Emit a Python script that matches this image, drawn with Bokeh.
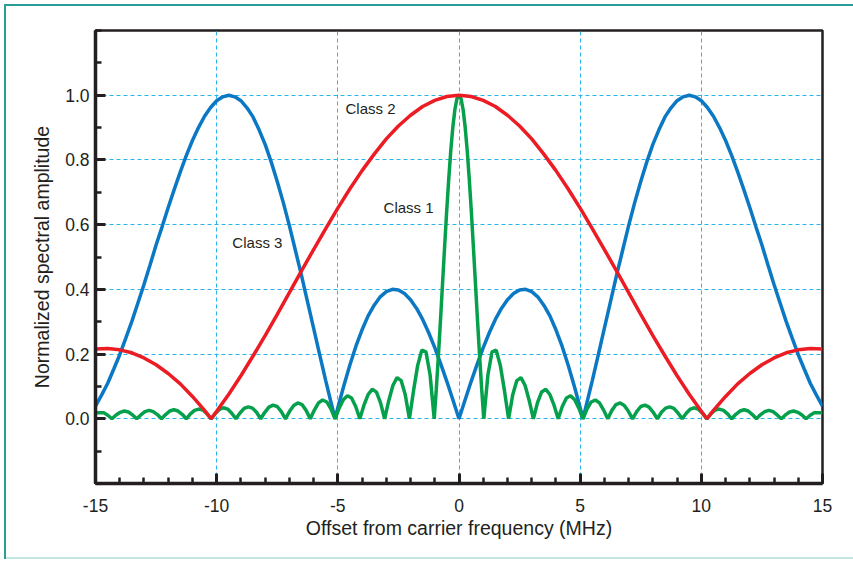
from bokeh.plotting import figure
from bokeh.models import FixedTicker, Label, Range1d, PrintfTickFormatter
from bokeh.embed import file_html
from bokeh.resources import INLINE

# ---------------- data ----------------
# Class 2 (red)
class2_x = [-15, -14.5, -14, -13.5, -13, -12.5, -12, -11.5, -11, -10.5, -10.23, -10,
            -9.5, -9, -8.5, -8, -7.5, -7, -6.5, -6, -5.5, -5, -4.5, -4, -3.5, -3,
            -2.5, -2, -1.5, -1, -0.5, 0, 0.5, 1, 1.5, 2, 2.5, 3, 3.5, 4, 4.5, 5,
            5.5, 6, 6.5, 7, 7.5, 8, 8.5, 9, 9.5, 10, 10.23, 10.5, 11, 11.5, 12,
            12.5, 13, 13.5, 14, 14.5, 15]
class2_y = [0.216, 0.217, 0.213, 0.204, 0.188, 0.167, 0.140, 0.108, 0.069, 0.026, 0.0, 0.023,
            0.076, 0.133, 0.194, 0.257, 0.323, 0.390, 0.457, 0.523, 0.588, 0.651, 0.711, 0.767, 0.818, 0.865,
            0.905, 0.938, 0.965, 0.984, 0.996, 1.000, 0.996, 0.984, 0.965, 0.938, 0.905, 0.865, 0.818, 0.767, 0.711, 0.651,
            0.588, 0.523, 0.457, 0.390, 0.323, 0.257, 0.194, 0.133, 0.076, 0.023, 0.0, 0.026, 0.069, 0.108, 0.140,
            0.167, 0.188, 0.204, 0.213, 0.217, 0.216]

# Class 3 (blue)
class3_x = [-15, -14.75, -14.5, -14.25, -14, -13.75, -13.5, -13.25, -13, -12.75, -12.5, -12.25,
            -12, -11.75, -11.5, -11.25, -11, -10.75, -10.5, -10.25, -10, -9.75, -9.5, -9.25,
            -9, -8.75, -8.5, -8.25, -8, -7.75, -7.5, -7.25, -7, -6.75, -6.5, -6.25,
            -6, -5.75, -5.5, -5.25, -5.115, -5, -4.75, -4.5, -4.25, -4, -3.75, -3.5, -3.25,
            -3, -2.75, -2.5, -2.25, -2, -1.75, -1.5, -1.25, -1, -0.75, -0.5, -0.25,
            0, 0.25, 0.5, 0.75, 1, 1.25, 1.5, 1.75, 2, 2.25, 2.5, 2.75, 3,
            3.25, 3.5, 3.75, 4, 4.25, 4.5, 4.75, 5, 5.115, 5.25, 5.5, 5.75, 6,
            6.25, 6.5, 6.75, 7, 7.25, 7.5, 7.75, 8, 8.25, 8.5, 8.75, 9,
            9.25, 9.5, 9.75, 10, 10.25, 10.5, 10.75, 11, 11.25, 11.5, 11.75, 12,
            12.25, 12.5, 12.75, 13, 13.25, 13.5, 13.75, 14, 14.25, 14.5, 14.75, 15]
class3_y = [0.039, 0.073, 0.109, 0.153, 0.198, 0.249, 0.301, 0.358, 0.415, 0.475, 0.537, 0.594,
            0.653, 0.709, 0.763, 0.814, 0.860, 0.900, 0.935, 0.962, 0.983, 0.995, 1.000, 0.995,
            0.983, 0.961, 0.933, 0.893, 0.848, 0.794, 0.733, 0.668, 0.597, 0.520, 0.443, 0.361,
            0.280, 0.198, 0.118, 0.041, 0.0, 0.034, 0.103, 0.167, 0.225, 0.275, 0.318, 0.351, 0.377,
            0.393, 0.400, 0.398, 0.387, 0.368, 0.341, 0.307, 0.266, 0.220, 0.169, 0.115, 0.058,
            0.0, 0.058, 0.115, 0.169, 0.220, 0.266, 0.307, 0.341, 0.368, 0.387, 0.398, 0.400, 0.393,
            0.377, 0.351, 0.318, 0.275, 0.225, 0.167, 0.103, 0.034, 0.0, 0.041, 0.118, 0.198, 0.280,
            0.361, 0.443, 0.520, 0.597, 0.668, 0.733, 0.794, 0.848, 0.893, 0.933, 0.961, 0.983,
            0.995, 1.000, 0.995, 0.983, 0.962, 0.935, 0.900, 0.860, 0.814, 0.763, 0.709, 0.653,
            0.594, 0.537, 0.475, 0.415, 0.358, 0.301, 0.249, 0.198, 0.153, 0.109, 0.073, 0.039]

# Class 1 (green)
class1_x = [-15.0, -14.663, -14.493,
            -14.322, -14.152, -13.981, -13.811, -13.640, -13.470,
            -13.299, -13.129, -12.958, -12.788, -12.617, -12.447,
            -12.276, -12.106, -11.935, -11.765, -11.594, -11.424,
            -11.253, -11.083, -10.912, -10.742, -10.571, -10.401,
            -10.230, -10.060, -9.889, -9.719, -9.548, -9.378,
            -9.207, -9.037, -8.866, -8.696, -8.525, -8.355,
            -8.184, -8.014, -7.843, -7.673, -7.502, -7.332,
            -7.161, -6.991, -6.820, -6.650, -6.479, -6.309,
            -6.138, -5.968, -5.797, -5.627, -5.456, -5.286,
            -5.115, -4.945, -4.774, -4.604, -4.433, -4.263,
            -4.092, -3.922, -3.751, -3.581, -3.410, -3.240,
            -3.069, -2.899, -2.728, -2.558, -2.387, -2.217,
            -2.046, -1.876, -1.705, -1.535, -1.364, -1.194,
            -1.023, -0.938, -0.853, -0.767, -0.682, -0.597, -0.512, -0.426, -0.341, -0.256, -0.171, -0.085,
            0.0, 0.085, 0.171, 0.256, 0.341, 0.426, 0.512, 0.597, 0.682, 0.767, 0.853, 0.938, 1.023,
            1.194, 1.364, 1.535, 1.705, 1.876, 2.046,
            2.217, 2.387, 2.558, 2.728, 2.899, 3.069,
            3.240, 3.410, 3.581, 3.751, 3.922, 4.092,
            4.263, 4.433, 4.604, 4.774, 4.945, 5.115,
            5.286, 5.456, 5.627, 5.797, 5.968, 6.138,
            6.309, 6.479, 6.650, 6.820, 6.991, 7.161,
            7.332, 7.502, 7.673, 7.843, 8.014, 8.184,
            8.355, 8.525, 8.696, 8.866, 9.037, 9.207,
            9.378, 9.548, 9.719, 9.889, 10.060, 10.230,
            10.401, 10.571, 10.742, 10.912, 11.083, 11.253,
            11.424, 11.594, 11.765, 11.935, 12.106, 12.276,
            12.447, 12.617, 12.788, 12.958, 13.129, 13.299,
            13.470, 13.640, 13.811, 13.981, 14.152, 14.322,
            14.493, 14.663, 15.0]
class1_y = [0.019, 0.019, 0.011,
            0.0, 0.012, 0.020, 0.024, 0.021, 0.012,
            0.0, 0.012, 0.022, 0.026, 0.022, 0.013,
            0.0, 0.013, 0.024, 0.028, 0.024, 0.014,
            0.0, 0.015, 0.026, 0.030, 0.027, 0.016,
            0.0, 0.016, 0.029, 0.034, 0.030, 0.017,
            0.0, 0.018, 0.032, 0.037, 0.033, 0.020,
            0.0, 0.020, 0.036, 0.042, 0.038, 0.022,
            0.0, 0.023, 0.041, 0.049, 0.044, 0.026,
            0.0, 0.027, 0.049, 0.058, 0.052, 0.031,
            0.0, 0.033, 0.059, 0.071, 0.064, 0.038,
            0.0, 0.042, 0.075, 0.091, 0.083, 0.050,
            0.0, 0.056, 0.103, 0.127, 0.118, 0.074,
            0.0, 0.087, 0.165, 0.212, 0.207, 0.136,
            0.0, 0.090, 0.191, 0.300, 0.414, 0.527, 0.637, 0.738, 0.827, 0.900, 0.955, 0.989,
            1.000, 0.989, 0.955, 0.900, 0.827, 0.738, 0.637, 0.527, 0.414, 0.300, 0.191, 0.090, 0.0,
            0.136, 0.207, 0.212, 0.165, 0.087, 0.0,
            0.074, 0.118, 0.127, 0.103, 0.056, 0.0,
            0.050, 0.083, 0.091, 0.075, 0.042, 0.0,
            0.038, 0.064, 0.071, 0.059, 0.033, 0.0,
            0.031, 0.052, 0.058, 0.049, 0.027, 0.0,
            0.026, 0.044, 0.049, 0.041, 0.023, 0.0,
            0.022, 0.038, 0.042, 0.036, 0.020, 0.0,
            0.020, 0.033, 0.037, 0.032, 0.018, 0.0,
            0.017, 0.030, 0.034, 0.029, 0.016, 0.0,
            0.016, 0.027, 0.030, 0.026, 0.015, 0.0,
            0.014, 0.024, 0.028, 0.024, 0.013, 0.0,
            0.013, 0.022, 0.026, 0.022, 0.012, 0.0,
            0.012, 0.021, 0.024, 0.020, 0.012, 0.0,
            0.011, 0.019, 0.019]

x_major_ticks = [-15, -10, -5, 0, 5, 10, 15]
x_minor_ticks = list(range(-15, 16))
x_grid_ticks = [-10, -5, 0, 5, 10]
y_major_ticks = [0.0, 0.2, 0.4, 0.6, 0.8, 1.0]
y_minor_ticks = [-0.2, -0.1, 0.1, 0.3, 0.5, 0.7, 0.9, 1.1, 1.2]

series_labels = ["Class 1", "Class 2", "Class 3"]
label_x = [-2.08, -3.65, -8.32]
label_y = [0.654, 0.960, 0.544]

# ---------------- figure ----------------
FONT = "Liberation Sans"
INK = "#231f20"
TEAL = "#2a9d97"

p = figure(width=853, height=561, output_backend="svg", toolbar_location=None,
           x_range=Range1d(-15, 15), y_range=Range1d(-0.2, 1.2),
           min_border_left=95, min_border_right=31, min_border_top=30, min_border_bottom=78)
p.background_fill_color = "white"
p.border_fill_color = None
p.outline_line_color = INK
p.outline_line_width = 2.5
# outer frame drawn behind the transparent border area
p.styles = {
    "background": (f"linear-gradient({TEAL},{TEAL}) 4px 4px / 849px 2px no-repeat, "
                   f"linear-gradient({TEAL},{TEAL}) 4px 4px / 2px 555px no-repeat, "
                   "linear-gradient(#c3e7e4,#c3e7e4) 4px 557px / 849px 2px no-repeat, #ffffff"),
}

# axes
p.xaxis.ticker = FixedTicker(ticks=x_major_ticks, minor_ticks=x_minor_ticks)
p.yaxis.ticker = FixedTicker(ticks=y_major_ticks, minor_ticks=y_minor_ticks)
p.xaxis.formatter = PrintfTickFormatter(format="%d")
p.yaxis.formatter = PrintfTickFormatter(format="%.1f")
for ax in (p.xaxis[0], p.yaxis[0]):
    ax.axis_line_color = INK
    ax.axis_line_width = 3.5
    ax.major_tick_line_color = INK
    ax.major_tick_line_width = 3
    ax.minor_tick_line_color = INK
    ax.minor_tick_line_width = 2.5
    ax.major_tick_in = 10
    ax.major_tick_out = 0
    ax.minor_tick_in = 6
    ax.minor_tick_out = 0
    ax.major_label_text_font = FONT
    ax.major_label_text_font_size = "17.5px"
    ax.major_label_text_color = INK
    ax.axis_label_text_font = FONT
    ax.axis_label_text_font_size = "19.5px"
    ax.axis_label_text_font_style = "normal"
    ax.axis_label_text_color = INK

p.xaxis.axis_label = "Offset from carrier frequency (MHz)"
p.yaxis.axis_label = "Normalized spectral amplitude"
p.xaxis.major_label_standoff = 15
p.xaxis.axis_label_standoff = 2
p.yaxis.major_label_standoff = 6
p.yaxis.axis_label_standoff = 9

# grid
p.xgrid.ticker = FixedTicker(ticks=x_grid_ticks)
p.ygrid.ticker = FixedTicker(ticks=y_major_ticks)
for g in (p.xgrid[0], p.ygrid[0]):
    g.grid_line_color = "#2bb5ea"
    g.grid_line_dash = "4 3"
    g.grid_line_width = 1

# curves
p.line(class3_x, class3_y, line_color="#0b78c3", line_width=3.5)
p.line(class1_x, class1_y, line_color="#05a04b", line_width=3.5)
p.line(class2_x, class2_y, line_color="#ec1c24", line_width=3.5)

# labels
for t, lx, ly in zip(series_labels, label_x, label_y):
    p.add_layout(Label(x=lx, y=ly, text=t, text_align="center", text_baseline="middle",
                       text_font=FONT, text_font_size="15px", text_color=INK))

open("out.html", "w").write(file_html(p, INLINE))
